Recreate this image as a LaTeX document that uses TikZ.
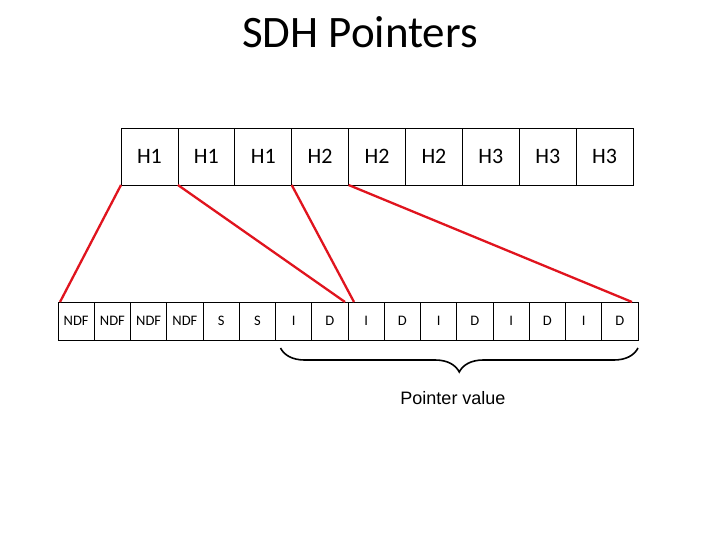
\documentclass[tikz,border=0pt]{standalone}
\usepackage{fontspec}
\setmainfont{Carlito}
\newfontfamily\arialfont{Liberation Sans}
\usetikzlibrary{decorations.pathreplacing}
\tikzset{
  topcell/.style={draw=black, line width=0.8pt, minimum width=56.9pt, minimum height=57pt, inner sep=0pt, outer sep=0pt, anchor=north west, font=\fontsize{22}{25}\selectfont},
  botcell/.style={draw=black, line width=0.8pt, minimum width=36.25pt, minimum height=38pt, inner sep=0pt, outer sep=0pt, anchor=north west, font=\fontsize{14.5}{16}\selectfont},
  redline/.style={draw={rgb,255:red,224;green,20;blue,30}, line width=2.3pt},
}
\begin{document}
\begin{tikzpicture}[x=1pt,y=-1pt]
\useasboundingbox (0,0) rectangle (720,540);
\node[font=\fontsize{45}{50}\selectfont] (title) at (360,32) {SDH Pointers};
% top row
\foreach \i/\t in {1/H1,2/H1,3/H1,4/H2,5/H2,6/H2,7/H3,8/H3,9/H3}{
  \node[topcell] (t\i) at ({121+(\i-1)*56.9},128) {\t};
}
% bottom row
\foreach \i/\t in {1/NDF,2/NDF,3/NDF,4/NDF,5/S,6/S,7/I,8/D,9/I,10/D,11/I,12/D,13/I,14/D,15/I,16/D}{
  \node[botcell] (b\i) at ({58+(\i-1)*36.25},302) {\t};
}
% red connectors
\draw[redline] (t1.south west) -- ([xshift=2pt]b1.north west);
\draw[redline] (t2.south west) -- ([xshift=-3pt]b8.north east);
\draw[redline] (t4.south west) -- ([xshift=6pt]b9.north west);
\draw[redline] (t5.south west) -- ([xshift=-6pt]b16.north east);
% brace
\coordinate (bl) at ([xshift=5pt,yshift=-8pt]b7.south west);
\coordinate (br) at ([yshift=-8pt]b16.south east);
\draw[line width=1.6pt, decorate, decoration={brace, amplitude=24pt, aspect=0.5}] (br) -- (bl);
\node[font=\arialfont\fontsize{18}{21}\selectfont] (pv) at (453,398) {Pointer value};
\end{tikzpicture}
\end{document}
